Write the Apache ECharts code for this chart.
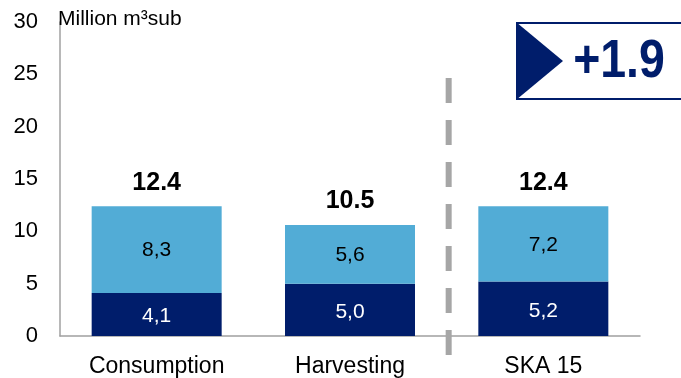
<!DOCTYPE html>
<html>
<head>
<meta charset="utf-8">
<script src="https://cdn.jsdelivr.net/npm/echarts@6/dist/echarts.min.js"></script>
<style>
  html, body { margin: 0; padding: 0; background: #fff; }
  #chart { width: 681px; height: 378px; }
</style>
</head>
<body>
<div id="chart"></div>
<script>
// Wood balance, million m³ solid under bark
const categories = ['Consumption', 'Harvesting', 'SKA 15'];
const lowerValues = [4.1, 5.0, 5.2];
const upperValues = [8.3, 5.6, 7.2];
const totalLabels = ['12.4', '10.5', '12.4'];
const yTicks = [0, 5, 10, 15, 20, 25, 30];
const deltaLabel = '+1.9';
const unitLabel = 'Million m³sub';

const NAVY = '#001d6b';
const LIGHT = '#52acd6';
const FONT = '"Liberation Sans", Arial, sans-serif';

const comma = v => String(v.toFixed(1)).replace('.', ',');

const chart = echarts.init(document.getElementById('chart'), null, { renderer: 'canvas' });

chart.setOption({
  animation: false,
  backgroundColor: '#fff',
  textStyle: { fontFamily: FONT },
  title: {
    text: unitLabel,
    left: 58,
    top: 9,
    padding: 0,
    textStyle: { fontFamily: FONT, fontSize: 21, fontWeight: 'normal', color: '#000' }
  },
  grid: { left: 60, right: 41, top: 22, bottom: 41, containLabel: false },
  xAxis: {
    type: 'category',
    data: categories,
    axisLine: { show: true, lineStyle: { color: '#a0a0a0', width: 1.5 } },
    axisTick: { show: false },
    axisLabel: { color: '#000', fontSize: 23, margin: 19, fontFamily: FONT }
  },
  yAxis: {
    type: 'value',
    min: yTicks[0],
    max: yTicks[yTicks.length - 1],
    interval: yTicks[1] - yTicks[0],
    axisLine: { show: true, lineStyle: { color: '#a0a0a0', width: 1.5 } },
    axisTick: { show: false },
    splitLine: { show: false },
    axisLabel: { color: '#000', fontSize: 22, margin: 22, fontFamily: FONT }
  },
  series: [
    {
      type: 'bar',
      stack: 'wood',
      barWidth: 130,
      data: lowerValues,
      itemStyle: { color: NAVY },
      label: {
        show: true, position: 'inside', offset: [0, 2], color: '#fff', fontSize: 21, fontFamily: FONT,
        formatter: p => comma(p.value)
      }
    },
    {
      type: 'bar',
      stack: 'wood',
      barWidth: 130,
      data: upperValues,
      itemStyle: { color: LIGHT },
      label: {
        show: true, position: 'inside', offset: [0, 1], color: '#000', fontSize: 21, fontFamily: FONT,
        formatter: p => comma(p.value)
      }
    },
    {
      // zero-height cap carrying the stack totals
      type: 'bar',
      stack: 'wood',
      barWidth: 130,
      data: categories.map(() => 0),
      itemStyle: { color: 'transparent' },
      label: {
        show: true, position: 'top', distance: 11, color: '#000',
        fontSize: 25, fontWeight: 'bold', fontFamily: FONT,
        formatter: p => totalLabels[p.dataIndex]
      }
    }
  ]
});

// Separator between actuals and the SKA 15 forecast, on the category boundary
const xH = chart.convertToPixel({ xAxisIndex: 0 }, categories[1]);
const xS = chart.convertToPixel({ xAxisIndex: 0 }, categories[2]);
const sepX = (xH + xS) / 2 + 2;

chart.setOption({
  graphic: [
    {
      type: 'line',
      shape: { x1: sepX, y1: 78, x2: sepX, y2: 356 },
      style: { stroke: '#a6a6a6', lineWidth: 6, lineDash: [25, 17] },
      z: 10
    },
    {
      type: 'rect',
      shape: { x: 517, y: 23, width: 190, height: 76 },
      style: { fill: '#fff', stroke: NAVY, lineWidth: 2 },
      z: 10
    },
    {
      type: 'polygon',
      shape: { points: [[516, 22], [563, 61], [516, 100]] },
      style: { fill: NAVY },
      z: 11
    },
    {
      type: 'text',
      x: 619,
      y: 62,
      scaleX: 0.86,
      style: {
        text: deltaLabel, fill: NAVY, fontSize: 54, fontWeight: 'bold', fontFamily: FONT,
        align: 'center', verticalAlign: 'middle'
      },
      z: 12
    }
  ]
});
</script>
</body>
</html>
